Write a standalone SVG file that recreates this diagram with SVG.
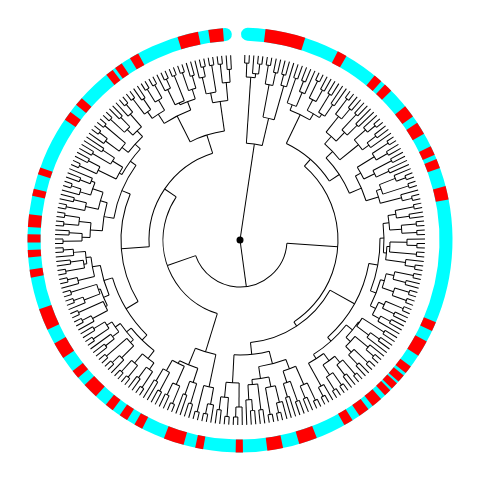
<svg xmlns="http://www.w3.org/2000/svg" width="480" height="480" viewBox="0 0 480 480">
<style>
.tree{fill:none;stroke:#000;stroke-width:1}
.ring{fill:none;stroke-width:13;stroke-linecap:round}
.red{fill:none;stroke:#ff0000;stroke-width:13;stroke-linecap:butt}
</style>
<defs>
<g id="C1"><line y1="-177" y2="-185" transform="rotate(-0.7)"/><line y1="-177" y2="-185" transform="rotate(0.7)"/><circle r="177" pathLength="360" stroke-dasharray="1.4 360" transform="rotate(-90.7)"/></g>
<g id="C2"><line y1="-171" y2="-185" transform="rotate(-0.7)"/><line y1="-171" y2="-185" transform="rotate(0.7)"/><circle r="171" pathLength="360" stroke-dasharray="1.4 360" transform="rotate(-90.7)"/></g>
<g id="C3"><line y1="-164" y2="-185" transform="rotate(-0.7)"/><line y1="-164" y2="-185" transform="rotate(0.7)"/><circle r="164" pathLength="360" stroke-dasharray="1.4 360" transform="rotate(-90.7)"/></g>
<g id="T1"><line y1="-167" y2="-185" transform="rotate(-1.05)"/><line y1="-167" y2="-177" transform="rotate(1.05)"/><use href="#C1" transform="rotate(1.05)"/><circle r="167" pathLength="360" stroke-dasharray="2.1 360" transform="rotate(-91.05)"/></g>
<g id="T2"><line y1="-160" y2="-185" transform="rotate(1.05)"/><line y1="-160" y2="-171" transform="rotate(-1.05)"/><use href="#C2" transform="rotate(-1.05)"/><circle r="160" pathLength="360" stroke-dasharray="2.1 360" transform="rotate(-91.05)"/></g>
<g id="Q1"><line y1="-158" y2="-177" transform="rotate(-1.4)"/><use href="#C1" transform="rotate(-1.4)"/><line y1="-158" y2="-171" transform="rotate(1.4)"/><use href="#C2" transform="rotate(1.4)"/><circle r="158" pathLength="360" stroke-dasharray="2.8 360" transform="rotate(-91.4)"/></g>
<g id="Q2"><line y1="-150" y2="-171" transform="rotate(-1.4)"/><use href="#C2" transform="rotate(-1.4)"/><line y1="-150" y2="-164" transform="rotate(1.4)"/><use href="#C3" transform="rotate(1.4)"/><circle r="150" pathLength="360" stroke-dasharray="2.8 360" transform="rotate(-91.4)"/></g>
<g id="Q3"><line y1="-162" y2="-177" transform="rotate(-1.4)"/><use href="#C1" transform="rotate(-1.4)"/><line y1="-162" y2="-177" transform="rotate(1.4)"/><use href="#C1" transform="rotate(1.4)"/><circle r="162" pathLength="360" stroke-dasharray="2.8 360" transform="rotate(-91.4)"/></g>
<g id="P1"><line y1="-150" y2="-167" transform="rotate(-1.75)"/><use href="#T1" transform="rotate(-1.75)"/><line y1="-150" y2="-177" transform="rotate(2.1)"/><use href="#C1" transform="rotate(2.1)"/><circle r="150" pathLength="360" stroke-dasharray="3.85 360" transform="rotate(-91.75)"/></g>
<g id="P2"><line y1="-145" y2="-171" transform="rotate(-2.1)"/><use href="#C2" transform="rotate(-2.1)"/><line y1="-145" y2="-160" transform="rotate(1.75)"/><use href="#T2" transform="rotate(1.75)"/><circle r="145" pathLength="360" stroke-dasharray="3.85 360" transform="rotate(-92.1)"/></g>
<g id="S1"><line y1="-138" y2="-158" transform="rotate(-2.8)"/><use href="#Q1" transform="rotate(-2.8)"/><line y1="-138" y2="-150" transform="rotate(2.8)"/><use href="#Q2" transform="rotate(2.8)"/><circle r="138" pathLength="360" stroke-dasharray="5.6 360" transform="rotate(-92.8)"/></g>
<g id="S2"><line y1="-150" y2="-158" transform="rotate(-2.8)"/><use href="#Q1" transform="rotate(-2.8)"/><line y1="-150" y2="-162" transform="rotate(2.8)"/><use href="#Q3" transform="rotate(2.8)"/><circle r="150" pathLength="360" stroke-dasharray="5.6 360" transform="rotate(-92.8)"/></g>
</defs>

<g id="ring" transform="translate(240,240)">
<circle class="ring" r="206" stroke="#00ffff" pathLength="360" stroke-dasharray="353.8 360" transform="rotate(-87.9)"/>
<g class="red">
<circle r="206" pathLength="360" stroke-dasharray="11 360" transform="rotate(-83.1)"/>
<circle r="206" pathLength="360" stroke-dasharray="2.7 360" transform="rotate(-62.6)"/>
<circle r="206" pathLength="360" stroke-dasharray="2.4 360" transform="rotate(-50.7)"/>
<circle r="206" pathLength="360" stroke-dasharray="2.4 360" transform="rotate(-47)"/>
<circle r="206" pathLength="360" stroke-dasharray="3.5 360" transform="rotate(-39)"/>
<circle r="206" pathLength="360" stroke-dasharray="3.5 360" transform="rotate(-33.5)"/>
<circle r="206" pathLength="360" stroke-dasharray="2.6 360" transform="rotate(-26.2)"/>
<circle r="206" pathLength="360" stroke-dasharray="2.6 360" transform="rotate(-22.4)"/>
<circle r="206" pathLength="360" stroke-dasharray="3.7 360" transform="rotate(-14.7)"/>
<circle r="206" pathLength="360" stroke-dasharray="2.6 360" transform="rotate(22.8)"/>
<circle r="206" pathLength="360" stroke-dasharray="4.5 360" transform="rotate(28.5)"/>
<circle r="206" pathLength="360" stroke-dasharray="2.3 360" transform="rotate(36.5)"/>
<circle r="206" pathLength="360" stroke-dasharray="2.2 360" transform="rotate(39.6)"/>
<circle r="206" pathLength="360" stroke-dasharray="2 360" transform="rotate(42.4)"/>
<circle r="206" pathLength="360" stroke-dasharray="2 360" transform="rotate(45)"/>
<circle r="206" pathLength="360" stroke-dasharray="3 360" transform="rotate(48.4)"/>
<circle r="206" pathLength="360" stroke-dasharray="3 360" transform="rotate(52.8)"/>
<circle r="206" pathLength="360" stroke-dasharray="2.6 360" transform="rotate(58)"/>
<circle r="206" pathLength="360" stroke-dasharray="5 360" transform="rotate(68.8)"/>
<circle r="206" pathLength="360" stroke-dasharray="4.3 360" transform="rotate(78.3)"/>
<circle r="206" pathLength="360" stroke-dasharray="2 360" transform="rotate(89.2)"/>
<circle r="206" pathLength="360" stroke-dasharray="2.2 360" transform="rotate(100)"/>
<circle r="206" pathLength="360" stroke-dasharray="5.6 360" transform="rotate(105.4)"/>
<circle r="206" pathLength="360" stroke-dasharray="2.4 360" transform="rotate(117.4)"/>
<circle r="206" pathLength="360" stroke-dasharray="2.4 360" transform="rotate(122.1)"/>
<circle r="206" pathLength="360" stroke-dasharray="2.4 360" transform="rotate(126.8)"/>
<circle r="206" pathLength="360" stroke-dasharray="4.3 360" transform="rotate(132.7)"/>
<circle r="206" pathLength="360" stroke-dasharray="2.4 360" transform="rotate(139.6)"/>
<circle r="206" pathLength="360" stroke-dasharray="4.6 360" transform="rotate(146.3)"/>
<circle r="206" pathLength="360" stroke-dasharray="6 360" transform="rotate(155)"/>
<circle r="206" pathLength="360" stroke-dasharray="2.2 360" transform="rotate(169.8)"/>
<circle r="206" pathLength="360" stroke-dasharray="2 360" transform="rotate(175.3)"/>
<circle r="206" pathLength="360" stroke-dasharray="2.3 360" transform="rotate(179.3)"/>
<circle r="206" pathLength="360" stroke-dasharray="3.5 360" transform="rotate(183.5)"/>
<circle r="206" pathLength="360" stroke-dasharray="2 360" transform="rotate(192)"/>
<circle r="206" pathLength="360" stroke-dasharray="2 360" transform="rotate(198)"/>
<circle r="206" pathLength="360" stroke-dasharray="2.6 360" transform="rotate(214.5)"/>
<circle r="206" pathLength="360" stroke-dasharray="2.4 360" transform="rotate(219.5)"/>
<circle r="206" pathLength="360" stroke-dasharray="2.2 360" transform="rotate(231)"/>
<circle r="206" pathLength="360" stroke-dasharray="2.2 360" transform="rotate(234)"/>
<circle r="206" pathLength="360" stroke-dasharray="2.6 360" transform="rotate(238.8)"/>
<circle r="206" pathLength="360" stroke-dasharray="5.7 360" transform="rotate(252.9)"/>
<circle r="206" pathLength="360" stroke-dasharray="4 360" transform="rotate(261.4)"/>
</g>
</g>

<g id="connectors" class="tree" transform="translate(240,240) rotate(0.5)">
<g id="root-edges">
<line y1="0" y2="-97" transform="rotate(8)"/>
<line y1="0" y2="-47" transform="rotate(171.75)"/>
</g>
<g id="clade-A">
<circle r="97" pathLength="360" stroke-dasharray="9.45 360" transform="rotate(-86.725)"/>
<line y1="-97" y2="-163" transform="rotate(3.275)"/>
<circle r="163" pathLength="360" stroke-dasharray="3.15 360" transform="rotate(-88.3)"/>
<line y1="-163" y2="-177" transform="rotate(1.7)"/><use href="#C1" transform="rotate(1.7)"/>
<line y1="-163" y2="-167" transform="rotate(4.85)"/><use href="#T1" transform="rotate(4.85)"/>
<line y1="-97" y2="-125" transform="rotate(12.725)"/>
<circle r="125" pathLength="360" stroke-dasharray="5.25 360" transform="rotate(-79.9)"/>
<line y1="-125" y2="-158" transform="rotate(10.1)"/><use href="#Q1" transform="rotate(10.1)"/>
<line y1="-125" y2="-160" transform="rotate(15.35)"/><use href="#T2" transform="rotate(15.35)"/>
</g>
<g id="clade-B">
<circle r="47" pathLength="360" stroke-dasharray="156.7 360" transform="rotate(3.4)"/>
<line y1="-47" y2="-98" transform="rotate(93.4)"/>
<circle r="98" pathLength="360" stroke-dasharray="105.55 360" transform="rotate(-49.4)"/>
</g>
<g id="clade-G">
<line y1="-98" y2="-107" transform="rotate(40.6)"/>
<circle r="107" pathLength="360" stroke-dasharray="30.93 360" transform="rotate(-64.85)"/>
<line y1="-107" y2="-139" transform="rotate(25.15)"/>
<circle r="139" pathLength="360" stroke-dasharray="9.1 360" transform="rotate(-69.4)"/>
<line y1="-139" y2="-145" transform="rotate(20.6)"/><use href="#P2" transform="rotate(20.6)"/>
<line y1="-139" y2="-146" transform="rotate(29.7)"/>
<circle r="146" pathLength="360" stroke-dasharray="5.6 360" transform="rotate(-63.1)"/>
<line y1="-146" y2="-158" transform="rotate(26.9)"/><use href="#Q1" transform="rotate(26.9)"/>
<line y1="-146" y2="-150" transform="rotate(32.5)"/><use href="#Q2" transform="rotate(32.5)"/>
<line y1="-107" y2="-119" transform="rotate(56.08)"/>
<circle r="119" pathLength="360" stroke-dasharray="20.56 360" transform="rotate(-44.2)"/>
<line y1="-119" y2="-128" transform="rotate(45.8)"/>
<circle r="128" pathLength="360" stroke-dasharray="9.8 360" transform="rotate(-49.1)"/>
<line y1="-128" y2="-138" transform="rotate(40.9)"/><use href="#S1" transform="rotate(40.9)"/>
<line y1="-128" y2="-152" transform="rotate(50.7)"/>
<circle r="152" pathLength="360" stroke-dasharray="4.9 360" transform="rotate(-41.75)"/>
<line y1="-152" y2="-167" transform="rotate(48.25)"/><use href="#T1" transform="rotate(48.25)"/>
<line y1="-152" y2="-160" transform="rotate(53.15)"/><use href="#T2" transform="rotate(53.15)"/>
<line y1="-119" y2="-132" transform="rotate(66.36)"/>
<circle r="132" pathLength="360" stroke-dasharray="11.725 360" transform="rotate(-29.5)"/>
<line y1="-132" y2="-138" transform="rotate(60.5)"/><use href="#S1" transform="rotate(60.5)"/>
<line y1="-132" y2="-145" transform="rotate(72.225)"/>
<circle r="145" pathLength="360" stroke-dasharray="5.25 360" transform="rotate(-20.4)"/>
<line y1="-145" y2="-150" transform="rotate(69.6)"/><use href="#P1" transform="rotate(69.6)"/>
<line y1="-145" y2="-167" transform="rotate(74.85)"/><use href="#T1" transform="rotate(74.85)"/>
</g>
<g id="clade-H">
<line y1="-98" y2="-103" transform="rotate(146.15)"/>
<circle r="103" pathLength="360" stroke-dasharray="55 360" transform="rotate(28.65)"/>
<line y1="-103" y2="-131" transform="rotate(118.65)"/>
<circle r="131" pathLength="360" stroke-dasharray="37.7 360" transform="rotate(9.8)"/>
<line y1="-131" y2="-140" transform="rotate(99.8)"/>
<circle r="140" pathLength="360" stroke-dasharray="22.05 360" transform="rotate(-1.25)"/>
<line y1="-140" y2="-144" transform="rotate(88.75)"/>
<circle r="144" pathLength="360" stroke-dasharray="11.7 360" transform="rotate(-7.1)"/>
<line y1="-144" y2="-150" transform="rotate(82.9)"/><use href="#S2" transform="rotate(82.9)"/>
<line y1="-144" y2="-147" transform="rotate(94.6)"/>
<circle r="147" pathLength="360" stroke-dasharray="5.25 360" transform="rotate(2)"/>
<line y1="-147" y2="-150" transform="rotate(92)"/><use href="#P1" transform="rotate(92)"/>
<line y1="-147" y2="-167" transform="rotate(97.25)"/><use href="#T1" transform="rotate(97.25)"/>
<line y1="-140" y2="-146" transform="rotate(110.8)"/>
<circle r="146" pathLength="360" stroke-dasharray="11 360" transform="rotate(15.3)"/>
<line y1="-146" y2="-150" transform="rotate(105.3)"/><use href="#S2" transform="rotate(105.3)"/>
<line y1="-146" y2="-152" transform="rotate(116.3)"/>
<circle r="152" pathLength="360" stroke-dasharray="5.25 360" transform="rotate(23.7)"/>
<line y1="-152" y2="-158" transform="rotate(113.7)"/><use href="#Q1" transform="rotate(113.7)"/>
<line y1="-152" y2="-160" transform="rotate(118.95)"/><use href="#T2" transform="rotate(118.95)"/>
<line y1="-131" y2="-136" transform="rotate(137.5)"/>
<circle r="136" pathLength="360" stroke-dasharray="18.65 360" transform="rotate(38.15)"/>
<line y1="-136" y2="-144" transform="rotate(128.15)"/>
<circle r="144" pathLength="360" stroke-dasharray="7.9 360" transform="rotate(34.2)"/>
<line y1="-144" y2="-145" transform="rotate(124.2)"/><use href="#P2" transform="rotate(124.2)"/>
<line y1="-144" y2="-150" transform="rotate(132.1)"/>
<circle r="150" pathLength="360" stroke-dasharray="5.25 360" transform="rotate(39.45)"/>
<line y1="-150" y2="-167" transform="rotate(129.45)"/><use href="#T1" transform="rotate(129.45)"/>
<line y1="-150" y2="-158" transform="rotate(134.7)"/><use href="#Q1" transform="rotate(134.7)"/>
<line y1="-136" y2="-141" transform="rotate(146.8)"/>
<circle r="141" pathLength="360" stroke-dasharray="7.35 360" transform="rotate(53.1)"/>
<line y1="-141" y2="-150" transform="rotate(143.1)"/><use href="#S2" transform="rotate(143.1)"/>
<line y1="-141" y2="-167" transform="rotate(150.45)"/><use href="#T1" transform="rotate(150.45)"/>
<line y1="-103" y2="-115" transform="rotate(173.65)"/>
<circle r="115" pathLength="360" stroke-dasharray="17.7 360" transform="rotate(74.8)"/>
<line y1="-115" y2="-128" transform="rotate(164.8)"/>
<circle r="128" pathLength="360" stroke-dasharray="12.6 360" transform="rotate(68.5)"/>
<line y1="-128" y2="-138" transform="rotate(158.5)"/><use href="#S1" transform="rotate(158.5)"/>
<line y1="-128" y2="-140" transform="rotate(171.1)"/>
<circle r="140" pathLength="360" stroke-dasharray="7 360" transform="rotate(77.6)"/>
<line y1="-140" y2="-150" transform="rotate(167.6)"/><use href="#P1" transform="rotate(167.6)"/>
<line y1="-140" y2="-145" transform="rotate(174.6)"/><use href="#P2" transform="rotate(174.6)"/>
<line y1="-115" y2="-143" transform="rotate(182.5)"/>
<circle r="143" pathLength="360" stroke-dasharray="5.25 360" transform="rotate(89.85)"/>
<line y1="-143" y2="-167" transform="rotate(179.85)"/><use href="#T1" transform="rotate(179.85)"/>
<line y1="-143" y2="-158" transform="rotate(185.1)"/><use href="#Q1" transform="rotate(185.1)"/>
</g>
<g id="clade-B2">
<line y1="-47" y2="-77" transform="rotate(250.1)"/>
<circle r="77" pathLength="360" stroke-dasharray="106.95 360" transform="rotate(106.65)"/>
<line y1="-77" y2="-117" transform="rotate(196.65)"/>
<circle r="117" pathLength="360" stroke-dasharray="10.5 360" transform="rotate(101.4)"/>
<line y1="-117" y2="-150" transform="rotate(191.4)"/><use href="#P1" transform="rotate(191.4)"/>
<line y1="-117" y2="-135" transform="rotate(201.9)"/>
<circle r="135" pathLength="360" stroke-dasharray="8.4 360" transform="rotate(107.7)"/>
<line y1="-135" y2="-150" transform="rotate(197.7)"/><use href="#Q2" transform="rotate(197.7)"/>
<line y1="-135" y2="-138" transform="rotate(206.1)"/><use href="#S1" transform="rotate(206.1)"/>
<line y1="-77" y2="-91" transform="rotate(303.6)"/>
<circle r="91" pathLength="360" stroke-dasharray="76.68 360" transform="rotate(175.3)"/>
</g>
<g id="clade-E">
<line y1="-91" y2="-119" transform="rotate(265.3)"/>
<circle r="119" pathLength="360" stroke-dasharray="53.8 360" transform="rotate(148.4)"/>
<line y1="-119" y2="-133" transform="rotate(238.4)"/>
<circle r="133" pathLength="360" stroke-dasharray="29.05 360" transform="rotate(133.9)"/>
<line y1="-133" y2="-140" transform="rotate(223.9)"/>
<circle r="140" pathLength="360" stroke-dasharray="13.2 360" transform="rotate(127.3)"/>
<line y1="-140" y2="-150" transform="rotate(217.3)"/><use href="#S2" transform="rotate(217.3)"/>
<line y1="-140" y2="-146" transform="rotate(230.5)"/>
<circle r="146" pathLength="360" stroke-dasharray="8.2 360" transform="rotate(136.4)"/>
<line y1="-146" y2="-150" transform="rotate(226.4)"/><use href="#P1" transform="rotate(226.4)"/>
<line y1="-146" y2="-152" transform="rotate(234.6)"/>
<circle r="152" pathLength="360" stroke-dasharray="4.55 360" transform="rotate(142.35)"/>
<line y1="-152" y2="-160" transform="rotate(232.35)"/><use href="#T2" transform="rotate(232.35)"/>
<line y1="-152" y2="-158" transform="rotate(236.9)"/><use href="#Q1" transform="rotate(236.9)"/>
<line y1="-133" y2="-142" transform="rotate(252.95)"/>
<circle r="142" pathLength="360" stroke-dasharray="12.5 360" transform="rotate(156.7)"/>
<line y1="-142" y2="-148" transform="rotate(246.7)"/>
<circle r="148" pathLength="360" stroke-dasharray="7 360" transform="rotate(153.2)"/>
<line y1="-148" y2="-150" transform="rotate(243.2)"/><use href="#P1" transform="rotate(243.2)"/>
<line y1="-148" y2="-150" transform="rotate(250.2)"/><use href="#P1" transform="rotate(250.2)"/>
<line y1="-142" y2="-150" transform="rotate(259.2)"/>
<circle r="150" pathLength="360" stroke-dasharray="7.525 360" transform="rotate(165.45)"/>
<line y1="-150" y2="-167" transform="rotate(255.45)"/><use href="#T1" transform="rotate(255.45)"/>
<line y1="-150" y2="-155" transform="rotate(262.975)"/>
<circle r="155" pathLength="360" stroke-dasharray="4.55 360" transform="rotate(170.7)"/>
<line y1="-155" y2="-158" transform="rotate(260.7)"/><use href="#Q1" transform="rotate(260.7)"/>
<line y1="-155" y2="-167" transform="rotate(265.25)"/><use href="#T1" transform="rotate(265.25)"/>
<line y1="-119" y2="-128" transform="rotate(292.2)"/>
<circle r="128" pathLength="360" stroke-dasharray="25.95 360" transform="rotate(189.25)"/>
<line y1="-128" y2="-138" transform="rotate(279.25)"/>
<circle r="138" pathLength="360" stroke-dasharray="11.9 360" transform="rotate(183.3)"/>
<line y1="-138" y2="-150" transform="rotate(273.3)"/><use href="#S2" transform="rotate(273.3)"/>
<line y1="-138" y2="-145" transform="rotate(285.2)"/>
<circle r="145" pathLength="360" stroke-dasharray="7 360" transform="rotate(191.7)"/>
<line y1="-145" y2="-158" transform="rotate(281.7)"/><use href="#Q1" transform="rotate(281.7)"/>
<line y1="-145" y2="-156" transform="rotate(288.7)"/>
<circle r="156" pathLength="360" stroke-dasharray="4.9 360" transform="rotate(196.25)"/>
<line y1="-156" y2="-167" transform="rotate(286.25)"/><use href="#T1" transform="rotate(286.25)"/>
<line y1="-156" y2="-160" transform="rotate(291.15)"/><use href="#T2" transform="rotate(291.15)"/>
<line y1="-128" y2="-135" transform="rotate(305.2)"/>
<circle r="135" pathLength="360" stroke-dasharray="13.4 360" transform="rotate(208.5)"/>
<line y1="-135" y2="-138" transform="rotate(298.5)"/><use href="#S1" transform="rotate(298.5)"/>
<line y1="-135" y2="-142" transform="rotate(311.9)"/>
<circle r="142" pathLength="360" stroke-dasharray="8.6 360" transform="rotate(217.6)"/>
<line y1="-142" y2="-150" transform="rotate(307.6)"/><use href="#P1" transform="rotate(307.6)"/>
<line y1="-142" y2="-150" transform="rotate(316.2)"/>
<circle r="150" pathLength="360" stroke-dasharray="4.55 360" transform="rotate(223.9)"/>
<line y1="-150" y2="-158" transform="rotate(313.9)"/><use href="#Q1" transform="rotate(313.9)"/>
<line y1="-150" y2="-167" transform="rotate(318.45)"/><use href="#T1" transform="rotate(318.45)"/>
</g>
<g id="clade-F">
<line y1="-91" y2="-110" transform="rotate(341.98)"/>
<circle r="110" pathLength="360" stroke-dasharray="18.75 360" transform="rotate(242.6)"/>
<line y1="-110" y2="-139" transform="rotate(332.6)"/>
<circle r="139" pathLength="360" stroke-dasharray="12.25 360" transform="rotate(236.5)"/>
<line y1="-139" y2="-150" transform="rotate(326.5)"/><use href="#S2" transform="rotate(326.5)"/>
<line y1="-139" y2="-148" transform="rotate(338.75)"/>
<circle r="148" pathLength="360" stroke-dasharray="6.3 360" transform="rotate(245.6)"/>
<line y1="-148" y2="-150" transform="rotate(335.6)"/><use href="#P1" transform="rotate(335.6)"/>
<line y1="-148" y2="-158" transform="rotate(341.9)"/><use href="#Q1" transform="rotate(341.9)"/>
<line y1="-110" y2="-140" transform="rotate(351.35)"/>
<circle r="140" pathLength="360" stroke-dasharray="6.3 360" transform="rotate(258.2)"/>
<line y1="-140" y2="-150" transform="rotate(348.2)"/><use href="#P1" transform="rotate(348.2)"/>
<line y1="-140" y2="-158" transform="rotate(354.5)"/><use href="#Q1" transform="rotate(354.5)"/>
</g>
</g>
<g id="root"><circle cx="240" cy="240" r="3.5" fill="#000"/></g>
</svg>
